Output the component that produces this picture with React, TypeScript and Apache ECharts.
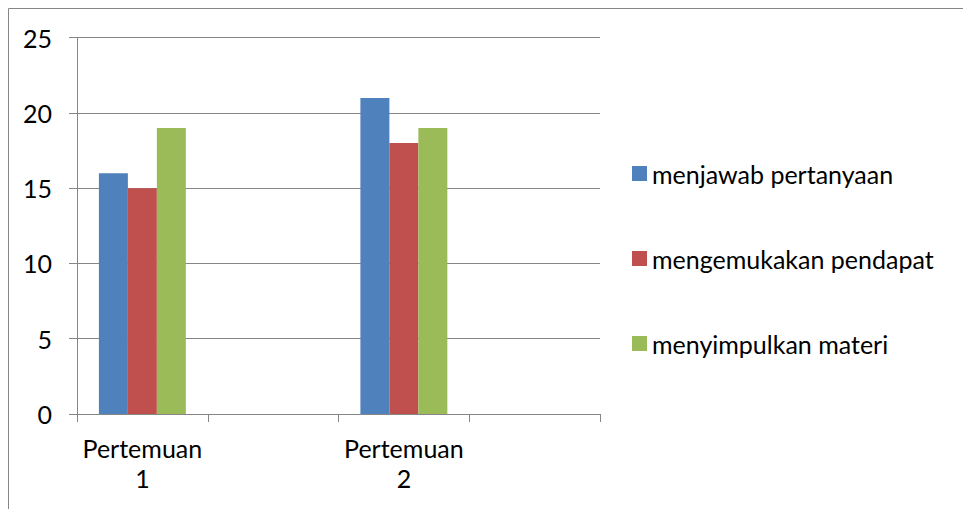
import React, { useEffect, useRef } from "react";
import * as echarts from "echarts";

// Categories: two meetings, each followed by an empty slot
const categories = ["Pertemuan\n1", "", "Pertemuan\n2", ""];
const seriesNames = ["menjawab pertanyaan", "mengemukakan pendapat", "menyimpulkan materi"];
const menjawabPertanyaan = [16, null, 21, null];
const mengemukakanPendapat = [15, null, 18, null];
const menyimpulkanMateri = [19, null, 19, null];
const yTicks = { min: 0, max: 25, interval: 5 };

const COLORS = ["#4F81BD", "#C0504D", "#9BBB59"];
const GRAY = "#868686";
const FONT = "Lato";

export default function App() {
  const ref = useRef<HTMLDivElement>(null);

  useEffect(() => {
    if (!ref.current) return;
    const chart = echarts.init(ref.current, null, { renderer: "svg" });
    const values = [menjawabPertanyaan, mengemukakanPendapat, menyimpulkanMateri];

    chart.setOption({
      animation: false,
      backgroundColor: "#ffffff",
      textStyle: { fontFamily: FONT },
      grid: { left: 77, right: 363, top: 37.7, bottom: 95, containLabel: false },
      graphic: [
        {
          type: "rect",
          shape: { x: 8.5, y: 8.5, width: 1200, height: 800 },
          style: { fill: "none", stroke: GRAY, lineWidth: 1 },
          silent: true,
        },
      ],
      legend: {
        orient: "vertical",
        left: 632,
        top: 161,
        padding: 0,
        itemWidth: 15,
        itemHeight: 15,
        itemGap: 60,
        icon: "rect",
        textStyle: { fontFamily: FONT, fontSize: 25, color: "#000", lineHeight: 25 },
        data: seriesNames,
      },
      xAxis: {
        type: "category",
        data: categories,
        boundaryGap: true,
        axisLine: { show: true, lineStyle: { color: GRAY, width: 1 } },
        axisTick: { show: true, length: 8, interval: 0, lineStyle: { color: GRAY } },
        axisLabel: {
          interval: 0,
          margin: 19,
          fontFamily: FONT,
          fontSize: 25,
          lineHeight: 30,
          color: "#000",
        },
        splitLine: { show: false },
      },
      yAxis: {
        type: "value",
        min: yTicks.min,
        max: yTicks.max,
        interval: yTicks.interval,
        axisLine: { show: true, lineStyle: { color: GRAY, width: 1 } },
        axisTick: { show: true, length: 8, lineStyle: { color: GRAY } },
        axisLabel: { margin: 25, fontFamily: FONT, fontSize: 25, color: "#000" },
        splitLine: { show: true, lineStyle: { color: GRAY, width: 1 } },
      },
      series: seriesNames.map((name, i) => ({
        name,
        type: "bar",
        data: values[i],
        barGap: "0%",
        barCategoryGap: "33.5%",
        itemStyle: { color: COLORS[i] },
      })),
    });

    return () => chart.dispose();
  }, []);

  return (
    <div
      ref={ref}
      style={{ position: "fixed", left: 0, top: 0, width: 963, height: 509, background: "#fff" }}
    />
  );
}
